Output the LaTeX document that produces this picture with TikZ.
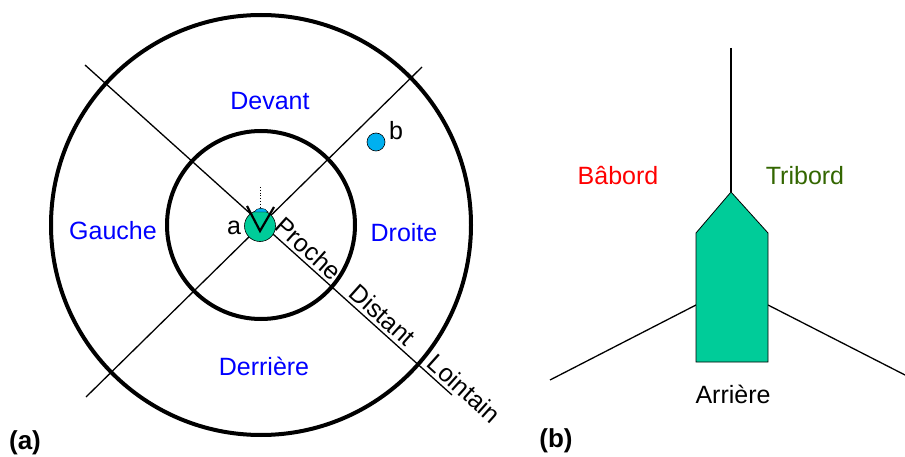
\documentclass[tikz,border=0pt]{standalone}
\usepackage{fontspec}
\setmainfont{Liberation Sans}
\definecolor{boatgreen}{RGB}{0,204,153}
\definecolor{dotblue}{RGB}{0,176,240}
\definecolor{tribgreen}{RGB}{51,102,0}
\tikzset{
    zones/.style={
        txt/.style={font=\fontsize{25}{30}\selectfont, inner sep=0pt, text height=18pt, text depth=0pt},
        zone/.style={txt, text=blue},
        dist/.style={txt, sloped, anchor=south, inner sep=3.5pt},
        tag/.style={txt, font=\fontsize{26}{30}\selectfont\bfseries},
        ring/.style={circle, draw, line width=4pt, inner sep=0pt},
        axis/.style={line width=1.3pt},
    },
}

\begin{document}
\begin{tikzpicture}[zones, x=1pt, y=-1pt]
    \useasboundingbox (0,0) rectangle (905,457);
    % (a) zones around the observer
    \coordinate (ul) at (85,65);
    \coordinate (lr) at (452,395);
    \coordinate (ur) at (422,67);
    \coordinate (ll) at (86,397);
    \draw[axis] (ur) -- (ll);
    \draw[axis] (ul) -- (lr)
        node[dist, pos=0.586] (proche) {Proche}
        node[dist, pos=0.787] (distant) {Distant}
        node[dist, pos=1.01] (lointain) {Lointain};
    \node[ring, minimum size=420pt] (outer) at (261,225) {};
    \node[ring, minimum size=188pt] (inner) at (261,225) {};
    \node[circle, draw, fill=boatgreen, line width=0.6pt, minimum size=31pt, inner sep=0pt] (eye) at (260,226) {};
    \filldraw[fill=dotblue, line width=0.4pt] (254,212) .. controls (257,207) and (265,207) .. (268,212) -- cycle;
    \draw[line width=2.2pt] (247,206) -- (260,231) -- (274,207);
    \draw[dotted, line width=0.8pt] (260,187) -- (260,207);
    \node[circle, draw, fill=dotblue, line width=0.6pt, minimum size=18pt, inner sep=0pt] (bdot) at (376,142) {};
    \node[txt] (a) at (234,226) {a};
    \node[txt] (b) at (396,131) {b};
    \node[zone] (devant) at (270,101) {Devant};
    \node[zone] (gauche) at (113,231) {Gauche};
    \node[zone] (droite) at (404,232) {Droite};
    \node[zone] (derriere) at (264,366) {Derrière};
    \node[tag] (taga) at (25,440) {(a)};
    % (b) the boat
    \coordinate (mast) at (731,48);
    \coordinate (bow) at (731,192);
    \coordinate (portside) at (696,305);
    \coordinate (portend) at (550,380);
    \coordinate (stbdside) at (768,305);
    \coordinate (stbdend) at (905,375);
    \draw[axis] (mast) -- (bow);
    \draw[axis] (portside) -- (portend);
    \draw[axis] (stbdside) -- (stbdend);
    \draw[fill=boatgreen, line width=0.8pt] (bow) -- (768,233) -- (768,362) -- (696,362) -- (696,233) -- cycle;
    \node[txt, text=red] (babord) at (618,176) {Bâbord};
    \node[txt, text=tribgreen] (tribord) at (805,176) {Tribord};
    \node[txt] (arriere) at (733,394) {Arrière};
    \node[tag] (tagb) at (556,438) {(b)};
\end{tikzpicture}
\end{document}
